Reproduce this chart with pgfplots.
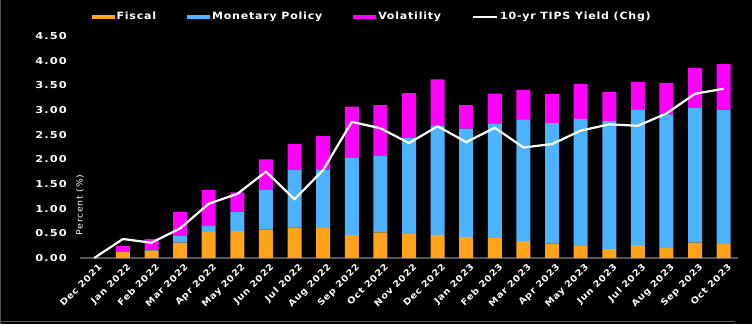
\documentclass[border=0pt]{standalone}
\usepackage{pgfplots}
\pgfplotsset{compat=1.18}
\usepackage{pgfplotstable}
\usepackage{fontspec}
\setmainfont{DejaVu Sans}[FakeStretch=1.1, LetterSpace=8]
\newfontfamily\tickfont{DejaVu Sans}[FakeStretch=1.2, LetterSpace=12]
\definecolor{fisc}{HTML}{FFA31A}
\definecolor{mon}{HTML}{4DB3FF}
\definecolor{vol}{HTML}{FF00FF}
\definecolor{framec}{HTML}{555555}

\pgfplotstableread{
idx fiscal mon vol tips
0 0 0 0 0
1 0.12 0.00 0.12 0.385
2 0.15 0.02 0.22 0.31
3 0.31 0.14 0.48 0.60
4 0.53 0.13 0.72 1.10
5 0.55 0.39 0.39 1.30
6 0.58 0.80 0.62 1.75
7 0.62 1.16 0.53 1.19
8 0.61 1.17 0.69 1.785
9 0.47 1.56 1.04 2.76
10 0.52 1.55 1.03 2.63
11 0.49 1.94 0.91 2.33
12 0.47 2.21 0.94 2.67
13 0.43 2.19 0.48 2.35
14 0.41 2.32 0.60 2.64
15 0.34 2.47 0.60 2.24
16 0.29 2.45 0.58 2.31
17 0.24 2.58 0.71 2.58
18 0.18 2.60 0.58 2.71
19 0.26 2.74 0.57 2.68
20 0.20 2.71 0.64 2.93
21 0.31 2.73 0.81 3.33
22 0.28 2.73 0.92 3.43
}\data

\begin{document}
\begin{tikzpicture}
\path[use as bounding box, fill=black] (-80pt,-66pt) rectangle (672pt,258pt);
\draw[framec, line width=1pt] (-79.5pt,-66pt) -- (-79.5pt,258pt);
\draw[framec, line width=1pt] (-80pt,-63pt) -- (655pt,-63pt);
\begin{axis}[
  at={(0,0)}, anchor=south west, scale only axis,
  width=658pt, height=222pt,
  xmin=-0.5, xmax=22.5, ymin=0, ymax=4.5,
  ybar stacked, bar width=14pt,
  axis x line=bottom, axis y line=left,
  x axis line style={draw=framec, line width=2pt, -},
  y axis line style={draw=none},
  major tick length=0pt,
  xtick={0,...,22},
  xticklabels={Dec 2021,Jan 2022,Feb 2022,Mar 2022,Apr 2022,May 2022,Jun 2022,Jul 2022,Aug 2022,Sep 2022,Oct 2022,Nov 2022,Dec 2022,Jan 2023,Feb 2023,Mar 2023,Apr 2023,May 2023,Jun 2023,Jul 2023,Aug 2023,Sep 2023,Oct 2023},
  ytick={0,0.5,1,1.5,2,2.5,3,3.5,4,4.5},
  /pgf/number format/assume math mode=true,
  yticklabel style={/pgf/number format/fixed, /pgf/number format/fixed zerofill, /pgf/number format/precision=2,
     text=white, font=\tickfont\bfseries\fontsize{9.5}{11}\selectfont, anchor=east, inner sep=0pt, xshift=-13pt},
  xticklabel style={rotate=45, anchor=north east, text=white, font=\bfseries\fontsize{8.8}{10}\selectfont, inner sep=1pt, yshift=-5pt},
  ylabel={Percent (\%)},
  ylabel style={text=white, font=\fontsize{8.5}{10}\selectfont, at={(axis description cs:0,0.5)}, xshift=-58pt, anchor=center},
]
\addplot[fill=fisc, draw=none] table[x=idx, y=fiscal] {\data};
\addplot[fill=mon, draw=none] table[x=idx, y=mon] {\data};
\addplot[fill=vol, draw=none] table[x=idx, y=vol] {\data};
\end{axis}
\begin{axis}[
  at={(0,0)}, anchor=south west, scale only axis,
  width=658pt, height=222pt,
  xmin=-0.5, xmax=22.5, ymin=0, ymax=4.5,
  hide axis,
  legend columns=-1,
  legend style={at={(0.444,1.087)}, anchor=center, draw=none, fill=none, text=white,
     font=\bfseries\fontsize{10}{12}\selectfont,
     /tikz/every even column/.append style={column sep=29pt}},
]
\addlegendimage{fill=fisc, draw=none, legend image code/.code={\fill[fisc] (0pt,-2pt) rectangle (23pt,2pt);}}
\addlegendentry{Fiscal}
\addlegendimage{fill=mon, draw=none, legend image code/.code={\fill[mon] (0pt,-2pt) rectangle (23pt,2pt);}}
\addlegendentry{Monetary Policy}
\addlegendimage{fill=vol, draw=none, legend image code/.code={\fill[vol] (0pt,-2pt) rectangle (23pt,2pt);}}
\addlegendentry{Volatility}
\addplot[white, line width=2.2pt, mark=none, line join=round, legend image code/.code={\draw[white, line width=2pt] (0pt,0pt) -- (24pt,0pt);}] table[x=idx, y=tips] {\data};
\addlegendentry{10-yr TIPS Yield (Chg)}
\end{axis}
\end{tikzpicture}
\end{document}
